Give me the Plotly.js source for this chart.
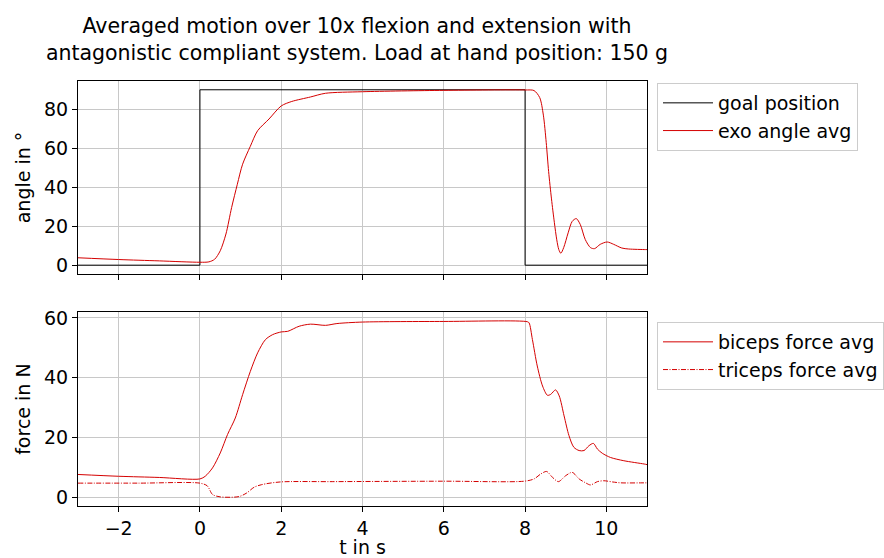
<!DOCTYPE html>
<html>
<head>
<meta charset="utf-8">
<script src="https://cdn.plot.ly/plotly-3.0.1.min.js"></script>
<style>html,body{margin:0;padding:0;background:#fff;}#chart{width:884px;height:558px;}</style>
</head>
<body>
<div id="chart"></div>
<script>
// goal position (step)
const goalT = [-3, 0, 0, 8, 8, 11];
const goalAngle = [0, 0, 90, 90, 0, 0];

// exo angle avg
const exoT = [-3, -2, -1, 0, 0.22, 0.36, 0.5, 0.64, 0.78, 0.92, 1.05, 1.24, 1.42, 1.7, 2.0, 2.26, 2.72, 3.09, 4.0, 6.0, 8.0, 8.22, 8.36, 8.45, 8.52, 8.58, 8.65, 8.72, 8.78, 8.83, 8.88, 8.95, 9.06, 9.16, 9.26, 9.36, 9.48, 9.61, 9.71, 9.85, 10.02, 10.18, 10.38, 10.55, 10.96, 11];
const exoAngle = [3.8, 2.9, 2.2, 1.5, 1.7, 3, 7.4, 16, 29.6, 41.5, 51.8, 61, 69, 75, 81.7, 84, 86.3, 88.2, 89, 89.7, 89.9, 89.6, 86, 77, 63, 48, 34, 22, 13, 8, 6.1, 9, 16.6, 22.5, 23.9, 20.8, 13.2, 9, 8.5, 10.7, 11.9, 10.7, 8.8, 8.3, 8.0, 8.0];

// biceps force avg
const bicT = [-3, -2, -1, 0, 0.13, 0.31, 0.5, 0.68, 0.87, 1.05, 1.24, 1.42, 1.61, 1.79, 2.0, 2.16, 2.44, 2.72, 3.09, 3.37, 4.0, 6.0, 8.06, 8.1, 8.18, 8.3, 8.43, 8.55, 8.63, 8.75, 8.84, 8.96, 9.08, 9.2, 9.33, 9.45, 9.57, 9.68, 9.78, 9.9, 10.1, 10.43, 10.93, 11];
const bicForce = [7.6, 7.0, 6.6, 6.1, 7.0, 9.8, 14.8, 21, 26.5, 34.3, 42.1, 48.3, 52.7, 54.4, 55.3, 55.5, 57.2, 57.9, 57.5, 58.1, 58.6, 58.8, 58.7, 58.3, 52.8, 43.9, 37.2, 34.1, 34.4, 35.9, 33.9, 27.2, 20.6, 16.7, 15.6, 15.6, 17.2, 18.0, 16.1, 14.7, 13.3, 12.2, 11.1, 10.9];

// triceps force avg
const triT = [-3, -1.5, 0, 0.18, 0.31, 0.5, 0.96, 1.15, 1.33, 1.52, 1.98, 3.27, 6.0, 7.98, 8.22, 8.39, 8.53, 8.67, 8.82, 9.0, 9.16, 9.33, 9.49, 9.61, 9.78, 9.94, 10.15, 10.35, 10.93, 11];
const triForce = [4.7, 4.7, 4.7, 3.8, 0.9, 0.1, 0.2, 1.4, 3.3, 4.2, 5.1, 5.2, 5.35, 5.35, 6.1, 7.8, 8.6, 6.7, 5.2, 7.2, 8.3, 6.1, 4.8, 4.1, 5.2, 5.5, 5.1, 4.8, 4.8, 4.8];

const xTicks = [-2, 0, 2, 4, 6, 8, 10];
const angleTicks = [0, 20, 40, 60, 80];
const forceTicks = [0, 20, 40, 60];

const RED = '#d40000';
const FONT = 'DejaVu Sans, sans-serif';
const FS = 19;

const traces = [
  {x: goalT, y: goalAngle, name: 'goal position', mode: 'lines', line: {color: '#000000', width: 1}, xaxis: 'x', yaxis: 'y', legend: 'legend'},
  {x: exoT, y: exoAngle, name: 'exo angle avg', mode: 'lines', line: {color: RED, width: 1, shape: 'spline', smoothing: 0.8}, xaxis: 'x', yaxis: 'y', legend: 'legend'},
  {x: bicT, y: bicForce, name: 'biceps force avg', mode: 'lines', line: {color: RED, width: 1, shape: 'spline', smoothing: 0.8}, xaxis: 'x2', yaxis: 'y2', legend: 'legend2'},
  {x: triT, y: triForce, name: 'triceps force avg', mode: 'lines', line: {color: RED, width: 1, dash: '5px,1.5px,1px,1.5px', shape: 'spline', smoothing: 0.8}, xaxis: 'x2', yaxis: 'y2', legend: 'legend2'}
];

const axBase = {
  showline: true, mirror: true, linecolor: '#000', linewidth: 1,
  ticks: 'outside', ticklen: 5, tickcolor: '#000', tickwidth: 1,
  showgrid: true, gridcolor: '#c8c8c8', gridwidth: 1,
  zeroline: false, tickfont: {size: FS, color: '#000', family: FONT}
};

const legBase = {
  bgcolor: 'rgba(255,255,255,0.8)', bordercolor: '#cccccc', borderwidth: 1,
  font: {size: FS, color: '#000', family: FONT}, xanchor: 'left', yanchor: 'top',
  xref: 'container', yref: 'container',
  tracegroupgap: 0, itemwidth: 50
};

const layout = {
  width: 884, height: 558,
  margin: {l: 78, r: 237, t: 81, b: 52, pad: 0},
  paper_bgcolor: '#fff', plot_bgcolor: '#fff',
  font: {family: FONT, color: '#000', size: FS},
  showlegend: true,
  title: {text: 'Averaged motion over 10x flexion and extension with<br>antagonistic compliant system. Load at hand position: 150 g',
          font: {size: 20.5, family: FONT, color: '#000'}, x: 357 / 884, xanchor: 'center', y: 1 - 33 / 558, yanchor: 'top'},
  xaxis: Object.assign({}, axBase, {range: [-3, 11], tickvals: xTicks, showticklabels: false, anchor: 'y', domain: [0, 1]}),
  yaxis: Object.assign({}, axBase, {range: [-4.5, 94.5], tickvals: angleTicks, domain: [0.546, 1], anchor: 'x',
          title: {text: 'angle in °', font: {size: FS, family: FONT, color: '#000'}, standoff: 8}}),
  xaxis2: Object.assign({}, axBase, {range: [-3, 11], tickvals: xTicks, anchor: 'y2', domain: [0, 1],
          title: {text: 't in s', font: {size: FS, family: FONT, color: '#000'}, standoff: 6}}),
  yaxis2: Object.assign({}, axBase, {range: [-2.95, 61.9], tickvals: forceTicks, domain: [0, 0.456], anchor: 'x2',
          title: {text: 'force in N', font: {size: FS, family: FONT, color: '#000'}, standoff: 8}}),
  legend: Object.assign({}, legBase, {x: 657 / 884, y: 1 - 83 / 558}),
  legend2: Object.assign({}, legBase, {x: 657 / 884, y: 1 - 322 / 558})
};

Plotly.newPlot('chart', traces, layout, {displayModeBar: false, responsive: false});
</script>
</body>
</html>
